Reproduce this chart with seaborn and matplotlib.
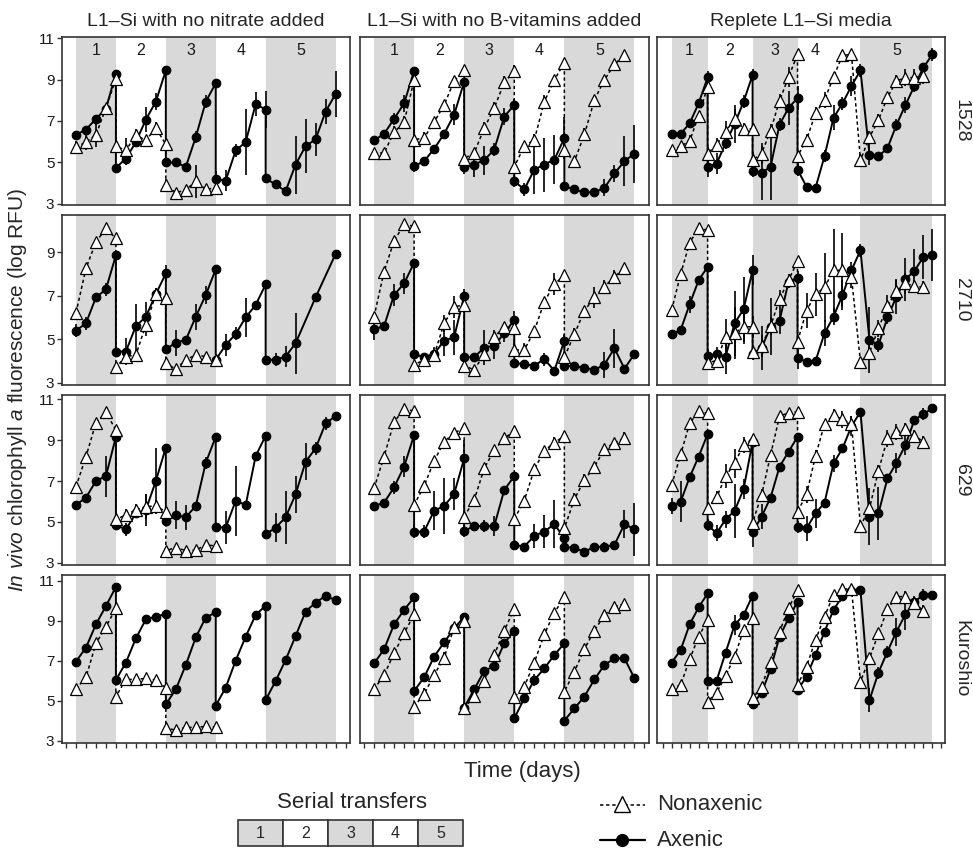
import numpy as np
import pandas as pd
import matplotlib.pyplot as plt
import seaborn as sns
from matplotlib.patches import Rectangle

nan = np.nan

# ---- x grids: a transfer day appears twice (end of one transfer, start of the next)
days_std = [1, 2, 3, 4, 5, 5, 6, 7, 8, 9, 10, 10, 11, 12, 13, 14, 15, 15,
            16, 17, 18, 19, 20, 20, 21, 22, 23, 24, 25, 26, 27]
days_rep = [1, 2, 3, 4, 5, 5, 6, 7, 8, 9, 10, 10, 11, 12, 13, 14, 15, 15,
            16, 17, 18, 19, 20, 21, 22, 23, 24, 25, 26, 27, 28, 29, 30]

bands_std = [(1, 5), (5, 10), (10, 15), (15, 20), (20, 27)]
bands_rep = [(1, 5), (5, 10), (10, 15), (15, 22), (22, 30)]
band_label_std = [3, 7.5, 12.5, 17.5, 23.5]
band_label_rep = [3, 7.5, 12.5, 17, 26]

media = ["L1\u2013Si with no nitrate added", "L1\u2013Si with no B-vitamins added",
         "Replete L1\u2013Si media"]
strains = ["1528", "2710", "629", "Kuroshio"]

# ---- 1528
nit_1528_ax = [6.33, 6.59, 7.10, 7.60, 9.28, 4.74, 5.19, 5.98, 7.07, 7.93, 9.44, 5.00, 5.00, 4.79, 6.22, 7.93,
               8.82, 4.18, 4.13, 5.58, 5.98, 7.82, 7.55, 4.23, 3.94, 3.62, 4.90, 5.79, 6.11, 7.45, 8.30]
nit_1528_ax_err = [0, 0.1, 0.1, 0.2, 0.2, 0.2, 0.3, 0.2, 0.6, 0.4, 0, 0, 0, 0.1, 0.3, 0.3,
                   0.2, 0.4, 0.5, 0.3, 1.6, 0.6, 0.9, 0, 0, 0.1, 1.4, 1.3, 0.8, 0.6, 1.1]
nit_1528_nx = [5.74, 5.98, 6.33, 7.63, 9.01, 5.79, 5.58, 6.33, 6.06, 6.67, 5.87, 3.91, 3.54, 3.67, 4.10, 3.70,
               3.78] + [nan] * 14
nit_1528_nx_err = [0.3, 0.4, 0.6, 0.2, 0.2, 0.3, 0.6, 0.3, 0.2, 0.3, 0.2, 0.3, 0.1, 0.2, 0.8, 0.2,
                   0.2] + [nan] * 14

vit_1528_ax = [6.06, 6.38, 7.10, 7.85, 9.41, 4.83, 5.06, 5.66, 6.38, 7.31, 8.89, 4.76, 4.90, 5.11, 5.62, 7.21,
               7.77, 4.10, 3.70, 4.66, 4.90, 5.14, 6.17, 3.86, 3.70, 3.56, 3.56, 3.78, 4.47, 5.06, 5.43]
vit_1528_ax_err = [0, 0.2, 0.3, 0.4, 0.2, 0.3, 0.2, 0.2, 0.2, 0.5, 0, 0.3, 0.6, 0.7, 0.3, 0.4,
                   0.3, 0.3, 0.3, 1.2, 1.3, 1.2, 1.0, 0, 0.1, 0, 0, 0.4, 0.4, 1.2, 1.4]
vit_1528_nx = [5.46, 5.46, 6.46, 6.94, 8.98, 6.09, 6.19, 6.94, 7.78, 8.93, 9.44, 5.19, 5.46, 6.65, 7.63, 8.86,
               9.41, 4.79, 5.79, 6.09, 7.93, 8.98, 9.81, 5.58, 5.06, 6.35, 8.02, 8.98, 9.73, 10.18, nan]
vit_1528_nx_err = [0, 0, 0.3, 0.3, 0.2, 0.3, 0.3, 0.2, 0.2, 0.2, 0.2, 0.2, 0.2, 0.3, 0.3, 0.3,
                   0.3, 0.3, 0.2, 0.3, 0.3, 0.2, 0.2, 0.3, 0.2, 0.3, 0.2, 0.2, 0.1, 0.1, nan]

rep_1528_ax = [6.38, 6.38, 6.89, 7.85, 9.10, 4.79, 4.95, 5.93, 6.85, 7.93, 9.22, 4.58, 4.50, 4.79, 6.83, 7.63,
               8.11, 4.66, 3.83, 3.78, 5.30, 7.15, 7.85, 8.69, 9.44, 5.38, 5.30, 5.69, 6.81, 7.77, 8.69, 9.58, 10.21]
rep_1528_ax_err = [0, 0, 0.2, 0.2, 0.3, 0.5, 0.5, 0.3, 0.9, 0.3, 0.3, 0.3, 1.3, 1.6, 0.3, 0.8,
                   0.6, 0.3, 0, 0, 0.3, 0.6, 0.3, 0.5, 0.3, 0.5, 0.1, 0.2, 0.3, 0.4, 0.3, 0.2, 0.3]
rep_1528_nx = [5.58, 5.79, 6.03, 7.26, 8.65, 5.43, 5.86, 6.49, 7.10, 6.62, 6.62, 5.11, 5.43, 6.54, 7.98, 9.12,
               10.21, 5.30, 6.09, 7.37, 8.01, 9.12, 10.16, 10.21, 5.11, 6.22, 7.05, 8.14, 8.93, 9.09, 9.09, 9.17, nan]
rep_1528_nx_err = [0, 0.2, 0.3, 0, 0, 0.3, 0.3, 0.5, 0.5, 0.3, 0.3, 0.4, 0.5, 0.3, 0.3, 0.5,
                   0, 0.2, 0.3, 0.3, 0.4, 0, 0, 0, 0.3, 0.3, 0.3, 0, 0.3, 0.4, 0.4, 0.4, nan]

# ---- 2710
nit_2710_ax = [5.40, 5.74, 6.93, 7.30, 8.87, 4.44, 4.44, 5.61, 6.04, 7.08, 8.03, 4.54, 4.85, 4.97, 6.04, 7.04,
               8.22, 4.06, 4.74, 5.25, 6.01, 6.58, 7.53, 4.06, 4.06, 4.21, 4.82, nan, 6.93, nan, 8.92]
nit_2710_ax_err = [0.3, 0.3, 0.1, 0.3, 0.2, 0.2, 0.6, 1.0, 0.7, 0.3, 0.4, 0.2, 0.6, 0.2, 0.6, 0.4,
                   0, 0, 0.5, 0.3, 0.9, 0.2, 0.2, 0, 0.3, 0.5, 1.4, nan, 0.2, nan, 0]
nit_2710_nx = [6.22, 8.26, 9.48, 10.10, 9.64, 3.72, 4.21, 4.28, 5.66, 7.07, 6.91, 3.90, 3.63, 4.06, 4.28, 4.21,
               4.06] + [nan] * 14
nit_2710_nx_err = [0, 0.2, 0, 0, 0, 0, 0.3, 0.3, 0.5, 0.3, 0.2, 0.2, 0, 0, 0.2, 0,
                   0] + [nan] * 14

vit_2710_ax = [5.46, 5.61, 7.04, 7.57, 8.52, 4.33, 4.18, 4.33, 4.94, 5.10, 7.01, 4.18, 4.18, 4.62, 4.71, 5.28,
               5.89, 3.90, 3.87, 3.79, 4.09, 3.56, 4.94, 3.79, 3.76, 3.70, 3.59, 3.84, 4.59, 3.65, 4.33]
vit_2710_ax_err = [0.5, 0, 0.5, 0.5, 0, 0, 0, 0.3, 0.7, 0.8, 0.3, 0.2, 0, 0.8, 0.6, 0.4,
                   0.4, 0, 0, 0, 0.3, 0, 0.3, 0, 0, 0, 0, 0.6, 0.9, 0, 0]
vit_2710_nx = [6.04, 8.11, 9.53, 10.29, 10.20, 3.83, 4.06, 4.28, 5.74, 6.50, 6.58, 3.78, 3.60, 4.32, 5.12, 5.56,
               5.51, 4.51, 4.51, 5.39, 6.73, 7.54, 7.95, 4.18, 5.23, 6.32, 6.93, 7.42, 7.88, 8.26, nan]
vit_2710_nx_err = [0, 0, 0, 0, 0, 0, 0, 0, 0.4, 0.5, 0, 0, 0, 0, 0.3, 0,
                   0, 0.3, 0.3, 0, 0, 0.5, 0, 0, 0.3, 0, 0.5, 0.3, 0.3, 0, nan]

rep_2710_ax = [5.23, 5.43, 6.61, 7.72, 8.33, 4.24, 4.33, 4.21, 5.74, 6.38, 8.18, 4.33, 4.60, 5.58, 5.86, 7.65,
               7.83, 4.13, 3.98, 4.00, 5.28, 6.04, 7.04, 8.18, 9.10, 4.97, 4.74, 6.01, 6.96, 7.76, 8.15, 8.79, 8.87]
rep_2710_ax_err = [0, 0, 0.4, 0, 0, 0.3, 0.3, 0.8, 1.5, 1.5, 0.7, 0.3, 1.0, 1.3, 0.6, 0.3,
                   0.3, 0.5, 0, 0, 0.6, 0.4, 0.7, 0.4, 0.3, 1.5, 0.3, 0.3, 0.8, 1.0, 1.0, 1.0, 1.2]
rep_2710_nx = [6.35, 8.00, 9.45, 10.10, 10.02, 3.93, 4.02, 5.12, 5.28, 5.58, 5.58, 4.44, 4.71, 5.61, 6.85, 7.72,
               8.60, 4.90, 6.32, 7.07, 7.39, 8.18, 8.18, 7.85, 3.95, 4.39, 5.51, 6.53, 7.23, 7.57, 7.45, 7.39, nan]
rep_2710_nx_err = [0, 0.2, 0, 0, 0, 0, 0.3, 0.8, 1.2, 0.8, 0.5, 0.3, 0.5, 0.4, 0.4, 0.3,
                   0, 0.3, 0.8, 1.0, 1.6, 1.9, 1.7, 0.5, 0, 0.3, 0.4, 0.5, 0.5, 0.5, 0.3, 0.3, nan]

# ---- 629
nit_629_ax = [5.83, 6.19, 7.00, 7.24, 9.16, 4.85, 4.64, 5.42, 5.59, 7.00, 8.63, 5.05, 5.34, 5.23, 5.78, 7.89,
              9.16, 4.77, 4.72, 6.04, 5.83, 8.22, 9.21, 4.40, 4.72, 5.23, 6.35, 7.94, 8.59, 9.81, 10.17]
nit_629_ax_err = [0, 0, 0, 1.0, 0, 0, 0.3, 0.2, 0.8, 1.6, 0, 0, 0.7, 0.6, 0, 0.3,
                  0, 0, 0.8, 1.7, 0, 0, 0, 0, 0.7, 1.3, 0.9, 0.9, 0.3, 0.3, 0]
nit_629_nx = [6.72, 8.19, 9.85, 10.35, 9.49, 5.13, 5.34, 5.59, 5.75, 5.78, 5.50, 3.60, 3.75, 3.60, 3.63, 3.87,
              3.84] + [nan] * 14
nit_629_nx_err = [0, 0, 0, 0, 0, 0, 0.3, 0.3, 0.6, 0.3, 0.2, 0, 0, 0, 0, 0,
                  0] + [nan] * 14

vit_629_ax = [5.78, 5.94, 6.69, 7.70, 9.24, 4.53, 4.53, 5.55, 5.78, 6.37, 8.11, 4.56, 4.80, 4.80, 4.80, 6.56,
              7.24, 3.88, 3.80, 4.32, 4.53, 4.90, 4.20, 3.80, 3.72, 3.55, 3.78, 3.80, 3.88, 4.90, 4.64]
vit_629_ax_err = [0, 0, 0.3, 0.5, 0, 0.3, 0.3, 0.95, 1.35, 0.8, 0.9, 0.3, 0.2, 0.3, 0.5, 0,
                  0.2, 0, 0, 0.6, 0.8, 1.15, 0.3, 0, 0, 0, 0, 0.2, 0, 0.7, 1.3]
vit_629_nx = [6.64, 8.19, 9.89, 10.50, 10.43, 5.83, 6.76, 7.98, 8.92, 9.36, 9.57, 5.26, 6.07, 7.62, 8.51, 9.08,
              9.45, 5.15, 6.04, 7.57, 8.48, 8.87, 9.20, 4.69, 6.11, 7.05, 7.70, 8.55, 8.87, 9.08, nan]
vit_629_nx_err = [0, 0, 0, 0, 0, 0, 0, 0, 0, 0, 0, 0, 0, 0, 0, 0,
                  0, 0, 0.2, 0.2, 0.2, 0.3, 0, 0, 0.3, 0.3, 0, 0, 0, 0.3, nan]

rep_629_ax = [5.78, 5.99, 7.18, 8.19, 9.29, 4.85, 4.45, 5.13, 5.54, 6.60, 8.92, 4.50, 5.26, 6.19, 7.70, 8.43,
              9.16, 4.77, 4.69, 5.42, 5.94, 7.86, 8.59, 9.68, 10.38, 5.26, 5.42, 7.13, 7.89, 8.76, 9.98, 10.27, 10.55]
rep_629_ax_err = [0.4, 1.0, 0, 0, 0, 0.3, 0.4, 0.4, 1.3, 0.5, 0, 0.7, 0.6, 0, 0, 0,
                  0, 0.3, 0.6, 0.7, 0, 0.4, 0, 0.5, 0, 1.4, 1.3, 0, 0.5, 0.5, 0, 0.3, 0]
rep_629_nx = [6.80, 8.30, 9.81, 10.41, 10.30, 5.67, 6.20, 7.24, 7.86, 8.76, 9.05, 4.97, 6.32, 8.27, 10.17, 10.33,
              10.38, 5.50, 6.35, 8.22, 9.78, 10.22, 10.01, 9.78, 4.80, 5.67, 7.50, 9.08, 9.40, 9.52, 9.20, 8.92, nan]
rep_629_nx_err = [0, 0, 0, 0, 0, 0, 0.3, 0.6, 0.7, 0.4, 0, 0, 0.3, 0, 0, 0,
                  0, 0.3, 0.4, 0.3, 0, 0.3, 0.4, 0.4, 0, 0, 0.3, 0.4, 0.4, 0.3, 0.3, 0.3, nan]

# ---- Kuroshio
nit_kur_ax = [6.97, 7.67, 8.83, 9.75, 10.70, 6.05, 6.92, 8.13, 9.08, 9.22, 9.35, 4.83, 5.58, 6.80, 8.18, 9.17,
              9.43, 4.77, 5.67, 7.02, 8.22, 9.30, 9.77, 5.05, 6.00, 7.05, 8.25, 9.47, 9.92, 10.25, 10.05]
nit_kur_ax_err = [0] * 31
nit_kur_nx = [5.60, 6.18, 7.88, 8.72, 9.63, 5.22, 6.08, 6.08, 6.13, 6.05, 5.67, 3.63, 3.55, 3.68, 3.68, 3.73,
              3.70] + [nan] * 14
nit_kur_nx_err = [0, 0, 0, 0, 0, 0, 0, 0, 0.1, 0, 0, 0, 0, 0, 0, 0,
                  0] + [nan] * 14

vit_kur_ax = [6.88, 7.58, 8.83, 9.55, 10.18, 5.50, 6.18, 7.22, 7.93, 8.63, 9.22, 4.67, 5.58, 6.50, 6.75, 7.88,
              8.52, 4.13, 5.13, 6.05, 6.63, 7.30, 7.88, 4.02, 4.63, 5.22, 6.08, 6.80, 7.13, 7.13, 6.13]
vit_kur_ax_err = [0, 0, 0, 0, 0, 0, 0, 0, 0, 0, 0, 0, 0, 0, 0, 0,
                  0, 0, 0, 0.3, 0, 0, 0, 0, 0, 0, 0, 0, 0, 0, 0]
vit_kur_nx = [5.58, 6.30, 7.38, 8.38, 9.33, 4.72, 5.35, 6.30, 7.17, 8.68, 9.02, 4.63, 5.25, 6.02, 7.30, 8.52,
              9.60, 5.18, 5.72, 6.92, 8.33, 9.42, 10.18, 5.47, 6.47, 7.60, 8.52, 9.30, 9.72, 9.85, nan]
vit_kur_nx_err = [0, 0, 0, 0, 0, 0, 0.3, 0.2, 0.3, 0.2, 0, 0, 0.2, 0, 0, 0,
                  0, 0, 0, 0, 0, 0, 0, 0, 0, 0, 0, 0, 0, 0, nan]

rep_kur_ax = [6.92, 7.55, 8.83, 9.68, 10.38, 6.02, 6.02, 7.42, 8.80, 9.30, 10.27, 4.85, 5.40, 6.60, 8.22, 9.13,
              9.97, 5.55, 6.22, 7.30, 8.47, 9.55, 10.25, 10.52, 10.55, 5.05, 6.42, 7.47, 8.47, 9.33, 9.97, 10.30, 10.30]
rep_kur_ax_err = [0, 0, 0, 0, 0, 0, 0, 0, 0.5, 0, 0, 0, 0, 0, 0, 0,
                  0, 0, 0, 0, 0, 0, 0, 0, 0, 0.6, 0.3, 0.3, 0.7, 0.8, 0.3, 0.3, 0]
rep_kur_nx = [5.60, 5.80, 7.08, 8.22, 9.05, 4.97, 5.42, 6.25, 7.22, 8.55, 9.13, 5.13, 5.72, 6.97, 8.47, 9.63,
              10.55, 5.80, 6.72, 8.05, 9.22, 10.30, 10.60, 10.60, 5.97, 7.13, 8.38, 9.58, 10.22, 10.22, 9.88, 9.52, nan]
rep_kur_nx_err = [0, 0, 0.2, 0, 0, 0, 0, 0, 0, 0, 0, 0, 0, 0, 0, 0,
                  0, 0, 0, 0, 0, 0, 0, 0, 0, 0, 0, 0, 0, 0.3, 0.3, 0.3, nan]

row_ylims = [(2.95, 11.05), (2.9, 10.72), (2.9, 11.2), (2.9, 11.3)]
row_yticks = [[3, 5, 7, 9, 11], [3, 5, 7, 9], [3, 5, 7, 9, 11], [3, 5, 7, 9, 11]]

series = {
    (0, 0): (nit_1528_ax, nit_1528_ax_err, nit_1528_nx, nit_1528_nx_err),
    (0, 1): (vit_1528_ax, vit_1528_ax_err, vit_1528_nx, vit_1528_nx_err),
    (0, 2): (rep_1528_ax, rep_1528_ax_err, rep_1528_nx, rep_1528_nx_err),
    (1, 0): (nit_2710_ax, nit_2710_ax_err, nit_2710_nx, nit_2710_nx_err),
    (1, 1): (vit_2710_ax, vit_2710_ax_err, vit_2710_nx, vit_2710_nx_err),
    (1, 2): (rep_2710_ax, rep_2710_ax_err, rep_2710_nx, rep_2710_nx_err),
    (2, 0): (nit_629_ax, nit_629_ax_err, nit_629_nx, nit_629_nx_err),
    (2, 1): (vit_629_ax, vit_629_ax_err, vit_629_nx, vit_629_nx_err),
    (2, 2): (rep_629_ax, rep_629_ax_err, rep_629_nx, rep_629_nx_err),
    (3, 0): (nit_kur_ax, nit_kur_ax_err, nit_kur_nx, nit_kur_nx_err),
    (3, 1): (vit_kur_ax, vit_kur_ax_err, vit_kur_nx, vit_kur_nx_err),
    (3, 2): (rep_kur_ax, rep_kur_ax_err, rep_kur_nx, rep_kur_nx_err),
}

# long table
records = []
for (r, c), (axv, axe, nxv, nxe) in series.items():
    days = days_rep if c == 2 else days_std
    for culture, vals, errs in (("Axenic", axv, axe), ("Nonaxenic", nxv, nxe)):
        assert len(vals) == len(days) and len(errs) == len(days), (r, c, culture)
        for i, d in enumerate(days):
            if not np.isnan(vals[i]):
                records.append(dict(row=r, col=c, culture=culture, day=d,
                                    value=vals[i], err=errs[i], order=i))
df = pd.DataFrame(records)

# ---- styling
sns.set_theme(style="white")
plt.rcParams["font.family"] = ["Liberation Sans", "DejaVu Sans"]
plt.rcParams["mathtext.fontset"] = "custom"
plt.rcParams["mathtext.rm"] = "Liberation Sans"
plt.rcParams["mathtext.it"] = "Liberation Sans:italic"

W, H = 973, 852
fig = plt.figure(figsize=(W / 100, H / 100), dpi=100)

col_px = [(62, 350), (360, 649), (657, 945)]
row_px = [(37, 205), (215, 385), (395, 565), (575, 743)]
band_grey = "#d9d9d9"
frame_col = "#333333"

for r in range(4):
    for c in range(3):
        x0, x1 = col_px[c]
        y0, y1 = row_px[r]
        ax = fig.add_axes([x0 / W, 1 - y1 / H, (x1 - x0) / W, (y1 - y0) / H])
        sub = df[(df.row == r) & (df.col == c)].sort_values("order")
        bands = bands_rep if c == 2 else bands_std
        for k, (b0, b1) in enumerate(bands):
            if k % 2 == 0:
                ax.axvspan(b0, b1, color=band_grey, lw=0, zorder=0)

        eb = sub[sub.err > 0]
        ax.vlines(eb.day, eb.value - eb.err, eb.value + eb.err, color="black", lw=1.2, zorder=2)

        sns.lineplot(data=sub[sub.culture == "Axenic"], x="day", y="value", estimator=None, sort=False,
                     color="black", lw=1.4, marker="o", markersize=6.2, markerfacecolor="black",
                     markeredgecolor="black", markeredgewidth=0.8, ax=ax, zorder=3)
        sns.lineplot(data=sub[sub.culture == "Nonaxenic"], x="day", y="value", estimator=None, sort=False,
                     color="black", lw=1.1, linestyle=(0, (2.2, 1.8)), marker="^", markersize=8.5,
                     markerfacecolor="white", markeredgecolor="black", markeredgewidth=0.9, ax=ax, zorder=4)

        ax.set_xlabel("")
        ax.set_ylabel("")
        if c == 2:
            ax.set_xlim(-0.63, 31.4)
            ax.set_xticks(range(0, 32))
        else:
            ax.set_xlim(-0.4, 28.45)
            ax.set_xticks(range(0, 29))
        ax.set_ylim(*row_ylims[r])
        ax.set_yticks(row_yticks[r])
        ax.tick_params(axis="both", direction="out", length=3.5, width=1, color=frame_col,
                       labelsize=11, labelcolor="#1a1a1a", pad=2)
        ax.tick_params(axis="x", labelbottom=False, bottom=(r == 3))
        ax.tick_params(axis="y", left=(c == 0), labelleft=(c == 0))
        for sp in ax.spines.values():
            sp.set_visible(True)
            sp.set_color(frame_col)
            sp.set_linewidth(1.2)

        if r == 0:
            labs = band_label_rep if c == 2 else band_label_std
            for k, xl in enumerate(labs):
                ax.text(xl, 10.4, str(k + 1), ha="center", va="center", fontsize=11.5, color="#1a1a1a")

# column titles and row strips
for c, name in enumerate(media):
    x0, x1 = col_px[c]
    fig.text((x0 + x1) / 2 / W, 1 - 22 / H, name, ha="center", va="center", fontsize=14)
for r, name in enumerate(strains):
    y0, y1 = row_px[r]
    fig.text(961 / W, 1 - (y0 + y1) / 2 / H, name, rotation=-90, ha="center", va="center", fontsize=14)

fig.text(18 / W, 1 - 390 / H, r"$\it{In\ vivo}$ chlorophyll $\it{a}$ fluorescence (log RFU)",
         rotation=90, ha="center", va="center", fontsize=15)
fig.text(522 / W, 1 - 772 / H, "Time (days)", ha="center", va="center", fontsize=16)

# serial transfer key
fig.text(352 / W, 1 - 803 / H, "Serial transfers", ha="center", va="center", fontsize=16)
key = fig.add_axes([238 / W, 1 - 846 / H, 225 / W, 26 / H])
key.set_xlim(0, 5)
key.set_ylim(0, 1)
key.axis("off")
for k in range(5):
    key.add_patch(Rectangle((k, 0), 1, 1, facecolor=band_grey if k % 2 == 0 else "white",
                            edgecolor=frame_col, lw=1.2, clip_on=False))
    key.text(k + 0.5, 0.5, str(k + 1), ha="center", va="center", fontsize=11.5)

# culture key
leg = fig.add_axes([590 / W, 0, 200 / W, 70 / H])
leg.set_xlim(590, 790)
leg.set_ylim(0, 70)
leg.axis("off")
leg.plot([600, 645], [47, 47], color="black", lw=1.1, linestyle=(0, (2.2, 1.8)), clip_on=False)
leg.plot([622], [48], marker="^", markersize=11, markerfacecolor="white", markeredgecolor="black",
         markeredgewidth=1.0, clip_on=False)
leg.plot([600, 645], [12, 12], color="black", lw=1.6, clip_on=False)
leg.plot([622], [12], marker="o", markersize=8.5, color="black", clip_on=False)
leg.text(657, 47, "Nonaxenic", ha="left", va="center", fontsize=16)
leg.text(657, 12, "Axenic", ha="left", va="center", fontsize=16)

fig.savefig("out.png", dpi=100)
